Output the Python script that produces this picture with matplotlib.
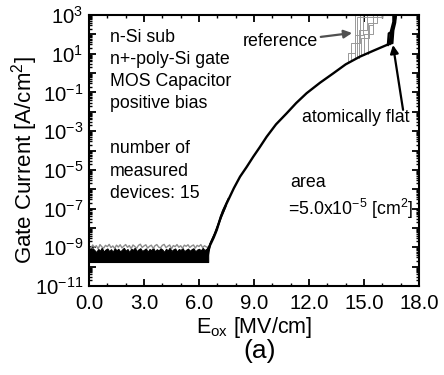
import numpy as np
import matplotlib.pyplot as plt
from matplotlib.ticker import FixedLocator, LogLocator, NullFormatter, MultipleLocator

plt.rcParams['font.family'] = ['Liberation Sans', 'DejaVu Sans']
plt.rcParams['mathtext.fontset'] = 'custom'
plt.rcParams['mathtext.rm'] = 'Liberation Sans'
plt.rcParams['mathtext.it'] = 'Liberation Sans:italic'
plt.rcParams['mathtext.bf'] = 'Liberation Sans:bold'

## data (current as log10 of A/cm2)

# noise floor of the 15 devices, below ~6.5 MV/cm
noise_x = np.round(np.arange(0, 6.55, 0.1), 1)
noise_lo = -9.76
noise_black = [-9.10, -9.20, -9.05, -9.15, -9.25, -9.08, -9.18, -9.02, -9.22, -9.12,
               -9.06, -9.20, -9.10, -9.24, -9.04, -9.16, -9.08, -9.22, -9.12, -9.03,
               -9.18, -9.09, -9.25, -9.07, -9.14, -9.02, -9.20, -9.11, -9.05, -9.19,
               -9.13, -9.06, -9.23, -9.09, -9.15, -9.03, -9.21, -9.10, -9.17, -9.05,
               -9.12, -9.24, -9.08, -9.16, -9.02, -9.19, -9.11, -9.06, -9.22, -9.09,
               -9.14, -9.04, -9.20, -9.13, -9.07, -9.18, -9.10, -9.05, -9.21, -9.12,
               -9.08, -9.16, -9.03, -9.14, -9.09, -9.06]
noise_grey = [-8.95, -9.05, -8.88, -9.00, -8.92, -9.08, -8.86, -8.98, -9.04, -8.90,
              -8.97, -8.85, -9.02, -8.93, -9.06, -8.89, -8.99, -8.87, -9.03, -8.94,
              -8.86, -9.00, -8.91, -9.07, -8.88, -8.96, -9.05, -8.90, -8.84, -9.01,
              -8.93, -8.87, -9.04, -8.95, -8.89, -9.06, -8.92, -8.86, -8.99, -9.03,
              -8.90, -8.85, -9.02, -8.94, -8.88, -9.07, -8.91, -8.97, -8.86, -9.00,
              -8.92, -9.05, -8.89, -8.95, -8.87, -9.01, -8.93, -8.88, -9.04, -8.90,
              -8.96, -8.86, -9.02, -8.92, -8.98, -9.00]

# main I-V curve (all devices overlap)
main_x = [6.45, 6.6, 6.8, 6.97, 7.2, 7.51, 7.9, 8.24, 8.6, 8.96, 9.3, 9.69, 10.2,
          10.78, 11.3, 11.87, 12.6, 13.33, 14.0, 14.78, 15.5, 16.24, 16.5]
main_y = [-9.3, -8.9, -8.5, -8.1, -7.4, -6.73, -5.95, -5.35, -4.85, -4.32, -3.85,
          -3.29, -2.65, -2.08, -1.55, -1.04, -0.5, -0.01, 0.45, 0.85, 1.15, 1.45, 1.55]
rise2_x = [6.5, 6.62, 6.85, 7.05, 7.3, 7.6]
rise2_y = [-9.4, -8.8, -8.3, -7.8, -7.1, -6.5]
rise3_x = [6.4, 6.55, 6.72, 6.9, 7.15, 7.45]
rise3_y = [-9.2, -8.95, -8.6, -8.25, -7.6, -6.9]

# breakdown of the reference devices (grey)
ref_x = [[14.15, 14.15, 14.5, 14.5],
         [14.3, 14.3, 14.78, 14.78],
         [14.5, 14.5, 14.96, 14.96],
         [14.7, 14.7, 15.15, 15.15],
         [14.85, 14.85, 15.29, 15.29, 15.5, 15.5],
         [15.0, 15.0, 15.5, 15.5, 15.7, 15.7],
         [15.2, 15.2, 15.7, 15.7],
         [14.6, 14.6, 15.97, 15.97]]
ref_y = [[0.60, 1.02, 1.02, 3.5],
         [0.65, 1.55, 1.55, 3.5],
         [0.72, 1.97, 1.97, 3.5],
         [0.80, 2.23, 2.23, 3.5],
         [0.86, 1.80, 1.80, 2.48, 2.48, 3.5],
         [0.93, 2.00, 2.00, 2.91, 2.91, 3.5],
         [1.00, 2.60, 2.60, 3.5],
         [0.76, 2.91, 2.91, 3.5]]

# breakdown of the atomically flat devices (black)
flat_x = [[16.3, 16.35, 16.45, 16.6, 16.6],
          [16.4, 16.45, 16.55, 16.65, 16.7],
          [16.5, 16.55, 16.7, 16.75],
          [16.55, 16.6, 16.7, 16.8]]
flat_y = [[1.45, 2.05, 2.10, 2.65, 3.5],
          [1.50, 2.00, 2.20, 2.70, 3.5],
          [1.55, 2.30, 2.80, 3.5],
          [1.57, 2.20, 2.60, 3.5]]

xticks = [0, 3, 6, 9, 12, 15, 18]
yexp = list(range(-11, 4))

W, H = 444, 375
fig = plt.figure(figsize=(W/100, H/100), dpi=100)
ax = fig.add_axes([89/W, 1-286/H, 330/W, 271/H])

def px(x, y):
   return (x/W, 1-y/H)

def lin(v):
   return 10**np.array(v)

# noise band
ax.plot(noise_x, lin(noise_grey), color='#8c8c8c', lw=1.0)
ax.fill_between(noise_x, lin(noise_lo), lin(noise_black), color='black', lw=0.8)

for xs, ys in zip(ref_x, ref_y):
   ax.plot(xs, lin(ys), color='#999999', lw=0.7)

ax.plot(rise2_x, lin(rise2_y), color='black', lw=1.2)
ax.plot(rise3_x, lin(rise3_y), color='black', lw=1.2)
ax.plot(main_x, lin(main_y), color='black', lw=1.7)
for xs, ys in zip(flat_x, flat_y):
   ax.plot(xs, lin(ys), color='black', lw=1.6)

ax.set_yscale('log')
ax.set_xlim(0, 18)
ax.set_ylim(1e-11, 1e3)

ax.xaxis.set_major_locator(FixedLocator(xticks))
ax.set_xticklabels(['%.1f' % t for t in xticks])
ax.xaxis.set_minor_locator(MultipleLocator(1))

ax.yaxis.set_major_locator(FixedLocator([10.0**k for k in yexp]))
ax.set_yticklabels(['10$^{\\mathregular{%d}}$' % k if k % 2 else '' for k in yexp])
ax.yaxis.set_minor_locator(LogLocator(base=10, subs=np.arange(2, 10), numticks=100))
ax.yaxis.set_minor_formatter(NullFormatter())

ax.tick_params(which='both', direction='in', top=True, right=True, labelsize=14.7)
ax.tick_params(which='major', length=5, width=1.3, pad=4)
ax.tick_params(which='minor', length=2.5, width=1.0)
ax.tick_params(axis='x', which='major', pad=6)
for s in ax.spines.values():
   s.set_linewidth(1.5)

# labels
fig.text(*px(25, 160), 'Gate Current [A/cm$^{\\mathregular{2}}$]', rotation=90,
         fontsize=16, ha='center', va='center')
fig.text(*px(254, 327), 'E$_{\\mathregular{ox}}$ [MV/cm]', fontsize=15.5,
         ha='center', va='center')
fig.text(*px(260, 351), '(a)', fontsize=19, ha='center', va='center')

fs = 12.8
for txt, y in [('n-Si sub', 37), ('n+-poly-Si gate', 59), ('MOS Capacitor', 82),
               ('positive bias', 103), ('number of', 148), ('measured', 172),
               ('devices: 15', 193)]:
   fig.text(*px(110, y), txt, fontsize=fs, va='center')
fig.text(*px(290, 182), 'area', fontsize=fs, va='center')
fig.text(*px(288, 209), '=5.0x10$^{\\mathregular{-5}}$ [cm$^{\\mathregular{2}}$]',
         fontsize=fs, va='center')

ax.annotate('reference', xy=(14.35, 10**2.07), xytext=(12.49, 10**1.61),
            fontsize=fs, ha='right', va='center',
            arrowprops=dict(arrowstyle='-|>', color='#505050', lw=1.6,
                            mutation_scale=12, shrinkA=0, shrinkB=0))
ax.annotate('', xy=(16.58, 10**1.45), xytext=(17.13, 10**-1.9),
            arrowprops=dict(arrowstyle='-|>', color='black', lw=1.6,
                            mutation_scale=12, shrinkA=0, shrinkB=0))
fig.text(*px(302, 118), 'atomically flat', fontsize=fs, va='center')

fig.savefig('out.png', dpi=100)
